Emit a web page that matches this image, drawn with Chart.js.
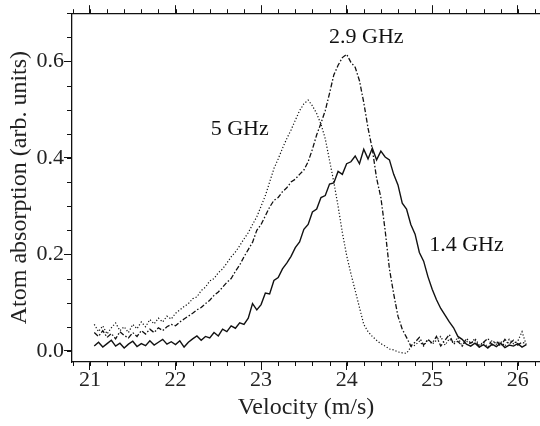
<!DOCTYPE html>
<html>
<head>
<meta charset="utf-8">
<script src="https://cdn.jsdelivr.net/npm/chart.js@4.4.0/dist/chart.umd.min.js"></script>
<style>
  html, body { margin: 0; padding: 0; background: #fff; }
  #wrap { width: 540px; height: 426px; }
</style>
</head>
<body>
<div id="wrap"><canvas id="absorptionChart"></canvas></div>
<script>
// velocity (m/s), shared by all three traces
const velocity = [
  21.05, 21.10, 21.15, 21.20, 21.25, 21.30, 21.35, 21.40, 21.45, 21.50,
  21.55, 21.60, 21.65, 21.70, 21.75, 21.80, 21.85, 21.90, 21.95, 22.00,
  22.05, 22.10, 22.15, 22.20, 22.25, 22.30, 22.35, 22.40, 22.45, 22.50,
  22.55, 22.60, 22.65, 22.70, 22.75, 22.80, 22.85, 22.90, 22.95, 23.00,
  23.05, 23.10, 23.15, 23.20, 23.25, 23.30, 23.35, 23.40, 23.45, 23.50,
  23.55, 23.60, 23.65, 23.70, 23.75, 23.80, 23.85, 23.90, 23.95, 24.00,
  24.05, 24.10, 24.15, 24.20, 24.25, 24.30, 24.35, 24.40, 24.45, 24.50,
  24.55, 24.60, 24.65, 24.70, 24.75, 24.80, 24.85, 24.90, 24.95, 25.00,
  25.05, 25.10, 25.15, 25.20, 25.25, 25.30, 25.35, 25.40, 25.45, 25.50,
  25.55, 25.60, 25.65, 25.70, 25.75, 25.80, 25.85, 25.90, 25.95, 26.00,
  26.05, 26.10
];

// 1.4 GHz (solid)
const abs14 = [
  0.010, 0.018, 0.008, 0.015, 0.022, 0.010, 0.016, 0.006, 0.014, 0.020,
  0.009, 0.015, 0.011, 0.021, 0.012, 0.018, 0.024, 0.014, 0.019, 0.013,
  0.021, 0.008, 0.018, 0.025, 0.031, 0.022, 0.030, 0.027, 0.038, 0.031,
  0.045, 0.040, 0.052, 0.047, 0.058, 0.055, 0.068, 0.098, 0.085, 0.096,
  0.120, 0.118, 0.146, 0.152, 0.170, 0.182, 0.196, 0.214, 0.226, 0.252,
  0.262, 0.288, 0.294, 0.318, 0.322, 0.346, 0.348, 0.372, 0.366, 0.388,
  0.392, 0.404, 0.388, 0.418, 0.398, 0.420, 0.396, 0.414, 0.402, 0.396,
  0.366, 0.344, 0.306, 0.294, 0.262, 0.242, 0.204, 0.186, 0.154, 0.128,
  0.106, 0.088, 0.074, 0.060, 0.048, 0.030, 0.024, 0.014, 0.010, 0.016,
  0.008, 0.013, 0.006, 0.014, 0.009, 0.016, 0.007, 0.012, 0.010, 0.015,
  0.008, 0.013
];

// 2.9 GHz (dash-dot)
const abs29 = [
  0.038, 0.030, 0.042, 0.028, 0.036, 0.025, 0.040, 0.032, 0.027, 0.038,
  0.030, 0.042, 0.035, 0.045, 0.038, 0.048, 0.042, 0.050, 0.055, 0.052,
  0.060, 0.066, 0.072, 0.078, 0.085, 0.090, 0.098, 0.105, 0.115, 0.122,
  0.132, 0.142, 0.150, 0.165, 0.178, 0.195, 0.210, 0.225, 0.250, 0.262,
  0.280, 0.298, 0.312, 0.318, 0.330, 0.338, 0.350, 0.356, 0.366, 0.375,
  0.392, 0.418, 0.448, 0.472, 0.498, 0.534, 0.572, 0.592, 0.608, 0.615,
  0.598, 0.588, 0.560, 0.515, 0.462, 0.418, 0.358, 0.318, 0.250, 0.170,
  0.118, 0.072, 0.045, 0.028, 0.010, 0.018, 0.028, 0.012, 0.024, 0.016,
  0.030, 0.010, 0.022, 0.034, 0.014, 0.020, 0.010, 0.026, 0.016, 0.022,
  0.008, 0.018, 0.026, 0.012, 0.020, 0.010, 0.024, 0.014, 0.022, 0.012,
  0.018, 0.015
];

// 5 GHz (dotted)
const abs50 = [
  0.055, 0.040, 0.052, 0.035, 0.048, 0.058, 0.042, 0.050, 0.038, 0.055,
  0.046, 0.060, 0.050, 0.065, 0.056, 0.068, 0.060, 0.072, 0.066, 0.078,
  0.085, 0.092, 0.098, 0.108, 0.112, 0.125, 0.132, 0.145, 0.150, 0.162,
  0.170, 0.182, 0.195, 0.205, 0.218, 0.232, 0.245, 0.262, 0.278, 0.300,
  0.322, 0.350, 0.378, 0.398, 0.420, 0.440, 0.458, 0.478, 0.498, 0.512,
  0.520, 0.508, 0.492, 0.470, 0.440, 0.395, 0.350, 0.300, 0.245, 0.198,
  0.160, 0.125, 0.090, 0.055, 0.040, 0.030, 0.022, 0.015, 0.010, 0.004,
  0.002, -0.002, -0.004, -0.005, 0.008, 0.012, 0.020, 0.010, 0.024, 0.014,
  0.022, 0.030, 0.012, 0.025, 0.016, 0.028, 0.010, 0.020, 0.014, 0.026,
  0.012, 0.018, 0.008, 0.022, 0.014, 0.020, 0.010, 0.024, 0.015, 0.020,
  0.040, 0.012
];

// curve labels, placed in data coordinates
const curveLabels = [
  { text: "5 GHz",   x: 22.75, y: 0.46 },
  { text: "2.9 GHz", x: 24.23, y: 0.65 },
  { text: "1.4 GHz", x: 25.40, y: 0.219 }
];

const X_MIN = 20.79, X_MAX = 26.26;
const Y_MIN = -0.023, Y_MAX = 0.70;

const serif = "'Liberation Serif', 'Times New Roman', serif";
const ink = "#111";

function toPoints(ys) {
  return velocity.map((v, i) => ({ x: v, y: ys[i] }));
}

// minor tick marks (0.2 on x, 0.05 on y), outward like the major ones
const minorTicks = {
  id: "minorTicks",
  afterDraw(chart) {
    const { ctx, chartArea: a, scales } = chart;
    ctx.save();
    ctx.strokeStyle = ink;
    ctx.lineWidth = 1;
    ctx.beginPath();
    for (let k = 104; k <= 131; k++) {
      const v = k * 0.2;
      if (v < X_MIN || v > X_MAX) continue;
      const px = Math.round(scales.x.getPixelForValue(v)) + 0.5;
      ctx.moveTo(px, a.bottom); ctx.lineTo(px, a.bottom + 4);
      ctx.moveTo(px, a.top); ctx.lineTo(px, a.top - 4);
    }
    for (let k = 0; k <= 14; k++) {
      const v = k * 0.05;
      if (v > Y_MAX + 1e-9) continue;
      const py = Math.round(scales.y.getPixelForValue(v)) + 0.5;
      ctx.moveTo(a.left, py); ctx.lineTo(a.left - 5, py);
    }
    ctx.stroke();
    ctx.restore();
  }
};

const curveText = {
  id: "curveText",
  afterDatasetsDraw(chart) {
    const { ctx, scales } = chart;
    ctx.save();
    ctx.fillStyle = ink;
    ctx.font = "22px " + serif;
    ctx.textAlign = "center";
    ctx.textBaseline = "middle";
    curveLabels.forEach(l => {
      ctx.fillText(l.text, scales.x.getPixelForValue(l.x), scales.y.getPixelForValue(l.y));
    });
    ctx.restore();
  }
};

const axisGrid = {
  drawOnChartArea: false,
  drawTicks: true,
  tickLength: 8,
  color: ink,
  lineWidth: 1
};
const axisBorder = { display: true, color: ink, width: 1.3 };

new Chart(document.getElementById("absorptionChart"), {
  type: "line",
  data: {
    datasets: [
      {
        label: "1.4 GHz",
        data: toPoints(abs14),
        borderColor: ink,
        borderWidth: 1.4
      },
      {
        label: "2.9 GHz",
        data: toPoints(abs29),
        borderColor: ink,
        borderWidth: 1.3,
        borderDash: [5, 2, 1.5, 2]
      },
      {
        label: "5 GHz",
        data: toPoints(abs50),
        borderColor: ink,
        borderWidth: 1.2,
        borderDash: [1.2, 2]
      }
    ]
  },
  options: {
    responsive: true,
    maintainAspectRatio: false,
    animation: false,
    layout: { padding: 0 },
    elements: { point: { radius: 0 }, line: { tension: 0 } },
    plugins: {
      legend: { display: false },
      tooltip: { enabled: false }
    },
    scales: {
      x: {
        type: "linear",
        position: "bottom",
        min: X_MIN,
        max: X_MAX,
        ticks: {
          stepSize: 1,
          includeBounds: false,
          color: "#222",
          padding: -3,
          maxRotation: 0,
          font: { family: serif, size: 22 }
        },
        grid: axisGrid,
        border: axisBorder,
        title: {
          display: true,
          text: "Velocity (m/s)",
          color: "#222",
          font: { family: serif, size: 24 },
          padding: { top: 0, bottom: 4 }
        },
        afterFit(scale) { scale.height = 64; }
      },
      x2: {
        type: "linear",
        axis: "x",
        position: "top",
        min: X_MIN,
        max: X_MAX,
        ticks: { stepSize: 1, includeBounds: false, display: false },
        grid: axisGrid,
        border: axisBorder,
        afterFit(scale) { scale.height = 13; }
      },
      y: {
        type: "linear",
        min: Y_MIN,
        max: Y_MAX,
        ticks: {
          stepSize: 0.2,
          includeBounds: false,
          color: "#222",
          padding: 0,
          font: { family: serif, size: 22 },
          callback: v => v.toFixed(1)
        },
        grid: axisGrid,
        border: axisBorder,
        title: {
          display: true,
          text: "Atom absorption (arb. units)",
          color: "#222",
          font: { family: serif, size: 24 },
          padding: { top: 5, bottom: 0 }
        },
        afterFit(scale) { scale.width = 72; }
      }
    }
  },
  plugins: [minorTicks, curveText]
});
</script>
</body>
</html>
